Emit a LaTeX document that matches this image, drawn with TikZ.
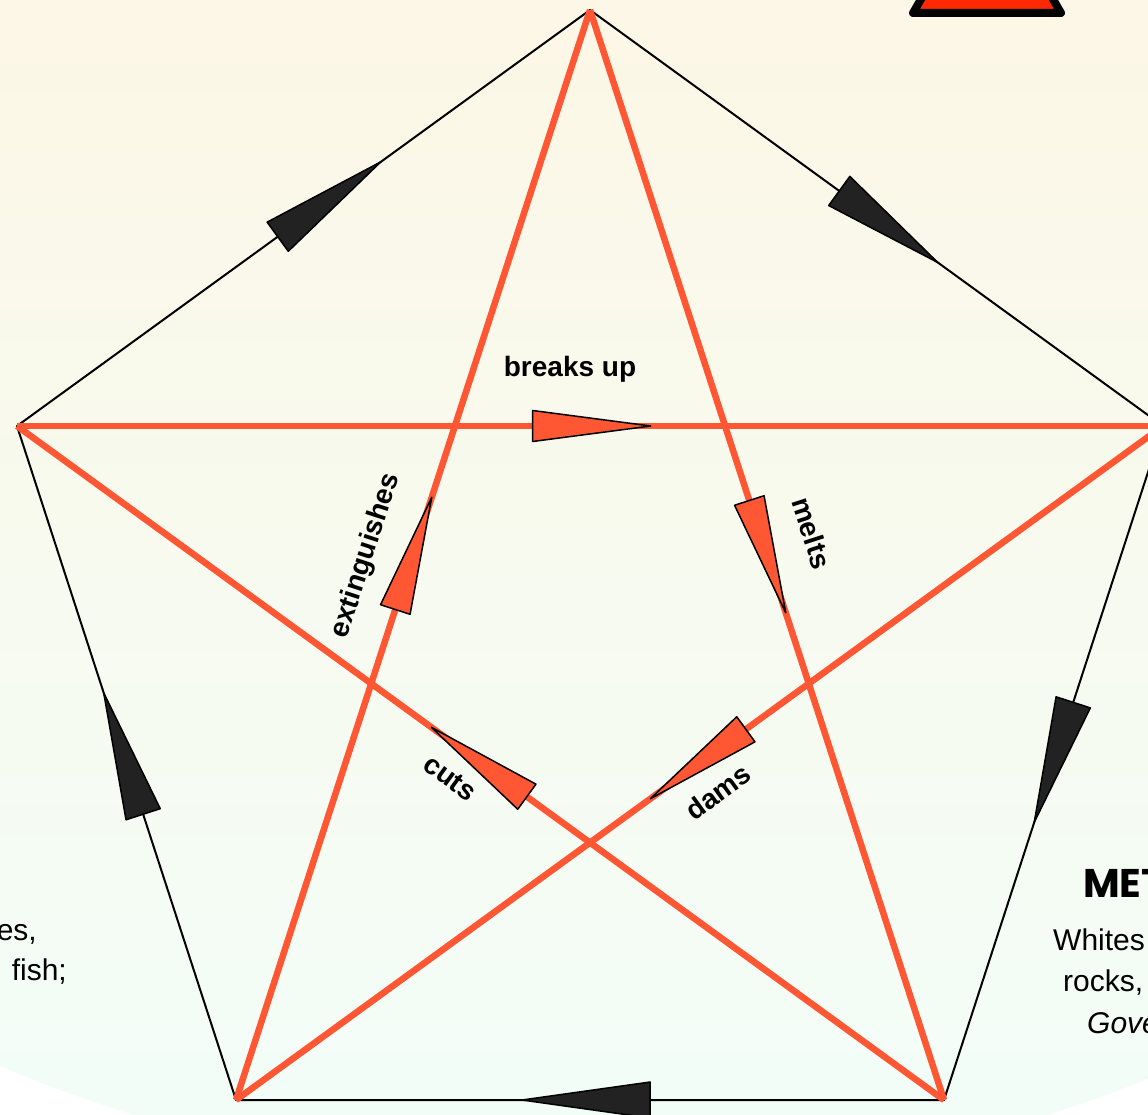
\documentclass[tikz,border=0pt]{standalone}
\usepackage{fontspec}
\setmainfont{Liberation Sans}
\newfontfamily\headfont{Poppins}
\usepackage{xcolor}
\definecolor{wxorange}{RGB}{255,87,51}
\definecolor{wxfire}{RGB}{255,40,0}
\definecolor{wxdark}{RGB}{34,34,34}
\definecolor{bgtop}{RGB}{252,247,230}
\definecolor{bgbot}{RGB}{243,253,248}
\usetikzlibrary{calc}

\begin{document}
\begin{tikzpicture}[x=1pt, y=-1pt,
  cycleline/.style={line width=2pt, black, line join=round},
  starline/.style={line width=6.5pt, wxorange},
  cyclehead/.style={fill=wxdark, draw=black, line width=1.5pt, line join=round},
  starhead/.style={fill=wxorange, draw=black, line width=1.5pt, line join=round},
  verb/.style={font=\fontsize{28}{32}\selectfont\bfseries, inner sep=0pt},
  cuttext/.style={font=\fontsize{30}{36}\selectfont, inner sep=0pt}]

  \useasboundingbox (0,0) rectangle (1148,1115);
  \clip (0,0) rectangle (1148,1115);

  % Background
  \fill[white] (0,0) rectangle (1148,1115);
  \begin{scope}
    \clip (590,-330) circle[radius=1515pt];
    \shade[top color=bgtop, bottom color=bgbot] (0,0) rectangle (1148,1115);
  \end{scope}

  % Fire symbol (cut off at the top)
  \filldraw[fill=wxfire, draw=black, line width=8pt, line join=round] (913,13) -- (1061,13) -- (987,-115) -- cycle;

  % Corners of the pentagon
  \coordinate (T)  at (590,10);
  \coordinate (R)  at (1163,426);
  \coordinate (BR) at (944,1100);
  \coordinate (BL) at (236,1100);
  \coordinate (L)  at (17,426);

  % --- Outer cycle ---
  \draw[cycleline] (L) -- (T) -- (R) -- (BR) -- (BL) -- cycle;
  \foreach \a/\b/\ta/\tb in {L/T/0.455/0.635, T/R/0.435/0.607, R/BR/0.41/0.588, BR/BL/0.415/0.596, BL/L/0.424/0.604}
    \filldraw[cyclehead] ($(\a)!\ta!(\b)!18pt!90:(\b)$) -- ($(\a)!\tb!(\b)$) -- ($(\a)!\ta!(\b)!18pt!-90:(\b)$) -- cycle;

  % --- Inner star ---
  \draw[starline] (T) -- (BR);
  \draw[starline] (BR) -- (L);
  \draw[starline] (L) -- (R);
  \draw[starline] (R) -- (BL);
  \draw[starline] (BL) -- (T);
  \foreach \a/\b in {T/BR, BR/L, L/R, R/BL, BL/T}
    \filldraw[starhead] ($(\a)!0.45!(\b)!15.5pt!90:(\b)$) -- ($(\a)!0.553!(\b)$) -- ($(\a)!0.45!(\b)!15.5pt!-90:(\b)$) -- cycle;

  % Star labels
  \node[verb] (breaksup) at (570,369) {breaks up};
  \node[verb, rotate=-72] (melts) at (812,533) {melts};
  \node[verb, rotate=-36] (cuts) at (450,778) {cuts};
  \node[verb, rotate=36] (dams) at (718,792) {dams};
  \node[verb, rotate=72] (extinguishes) at (366,556) {extinguishes};

  % Texts cut off at the sides
  \node[cuttext, anchor=base east] (leftA) at (37,940) {es,};
  \node[cuttext, anchor=base east] (leftB) at (67,980) {fish;};
  \node[font=\headfont\fontsize{40}{48}\selectfont\bfseries, inner sep=0pt, anchor=base west] (metal) at (1083,897) {MET};
  \node[cuttext, anchor=base west] (rightA) at (1053,950) {Whites};
  \node[cuttext, anchor=base west] (rightB) at (1063,991) {rocks,};
  \node[cuttext, anchor=base west, font=\fontsize{30}{36}\selectfont\itshape] (rightC) at (1087,1033) {Gove};
\end{tikzpicture}
\end{document}
